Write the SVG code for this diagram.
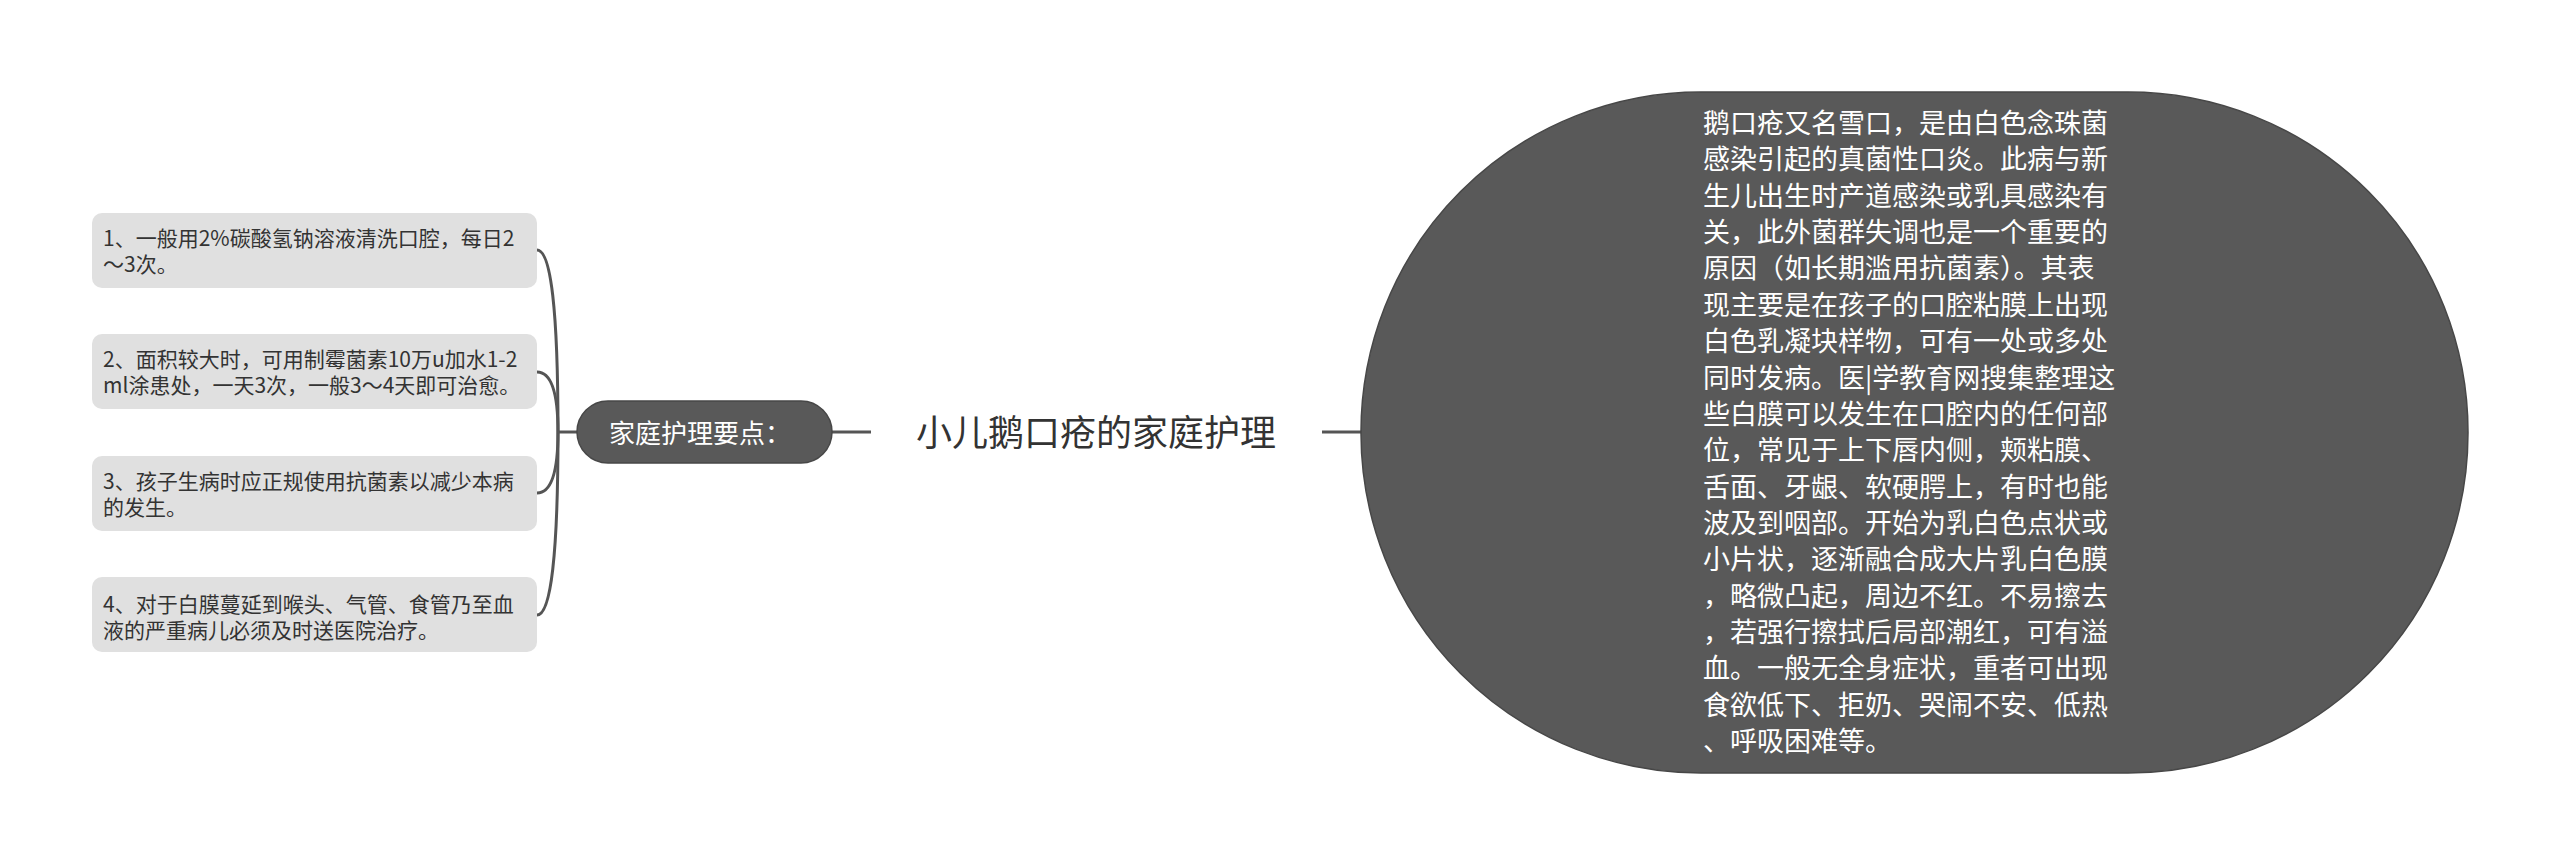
<svg xmlns="http://www.w3.org/2000/svg" width="2560" height="865" viewBox="0 0 2560 865">
<style>
.box{fill:#e0e0e0;}
.btxt{font-family:"Noto Sans CJK SC","Liberation Sans",sans-serif;font-size:21px;fill:#333333;}
.dark{fill:#595959;stroke:#474747;stroke-width:1.5;}
.wtxt{font-family:"Noto Sans CJK SC","Liberation Sans",sans-serif;fill:#ffffff;}
.title{font-family:"Noto Sans CJK SC","Liberation Sans",sans-serif;font-size:36px;fill:#333333;}
.conn{fill:none;stroke:#555555;stroke-width:3;}
</style>
<rect width="2560" height="865" fill="#ffffff"/>
<g id="connectors">
<path class="conn" d="M 558 432 Q 558 250 537 250"/>
<path class="conn" d="M 558 432 Q 558 372 537 372"/>
<path class="conn" d="M 558 432 Q 558 493 537 493"/>
<path class="conn" d="M 558 432 Q 558 615 537 615"/>
<path class="conn" d="M 557 432 L 577 432"/>
<path class="conn" d="M 832 432 L 871 432"/>
<path class="conn" d="M 1322 432 L 1362 432"/>
</g>
<g id="item1">
<rect class="box" x="92" y="213" width="445" height="75" rx="10"/>
<text class="btxt" x="103" y="246">1、一般用2%碳酸氢钠溶液清洗口腔，每日2</text>
<text class="btxt" x="103" y="272">～3次。</text>
</g>
<g id="item2">
<rect class="box" x="92" y="334" width="445" height="75" rx="10"/>
<text class="btxt" x="103" y="367">2、面积较大时，可用制霉菌素10万u加水1-2</text>
<text class="btxt" x="103" y="393">ml涂患处，一天3次，一般3～4天即可治愈。</text>
</g>
<g id="item3">
<rect class="box" x="92" y="456" width="445" height="75" rx="10"/>
<text class="btxt" x="103" y="489">3、孩子生病时应正规使用抗菌素以减少本病</text>
<text class="btxt" x="103" y="515">的发生。</text>
</g>
<g id="item4">
<rect class="box" x="92" y="577" width="445" height="75" rx="10"/>
<text class="btxt" x="103" y="612">4、对于白膜蔓延到喉头、气管、食管乃至血</text>
<text class="btxt" x="103" y="638">液的严重病儿必须及时送医院治疗。</text>
</g>
<g id="branch">
<rect class="dark" x="577" y="401" width="255" height="62" rx="31"/>
<text class="wtxt" x="609" y="443" font-size="26">家庭护理要点：</text>
</g>
<g id="root">
<text class="title" x="916" y="446">小儿鹅口疮的家庭护理</text>
</g>
<g id="description">
<rect class="dark" x="1361" y="92" width="1107" height="681" rx="340" ry="340"/>
<text class="wtxt" font-size="27">
<tspan x="1703" y="133">鹅口疮又名雪口，是由白色念珠菌</tspan>
<tspan x="1703" y="169.4">感染引起的真菌性口炎。此病与新</tspan>
<tspan x="1703" y="205.7">生儿出生时产道感染或乳具感染有</tspan>
<tspan x="1703" y="242.1">关，此外菌群失调也是一个重要的</tspan>
<tspan x="1703" y="278.4">原因（如长期滥用抗菌素）。其表</tspan>
<tspan x="1703" y="314.8">现主要是在孩子的口腔粘膜上出现</tspan>
<tspan x="1703" y="351.1">白色乳凝块样物，可有一处或多处</tspan>
<tspan x="1703" y="387.5">同时发病。医|学教育网搜集整理这</tspan>
<tspan x="1703" y="423.8">些白膜可以发生在口腔内的任何部</tspan>
<tspan x="1703" y="460.2">位，常见于上下唇内侧，颊粘膜、</tspan>
<tspan x="1703" y="496.5">舌面、牙龈、软硬腭上，有时也能</tspan>
<tspan x="1703" y="532.9">波及到咽部。开始为乳白色点状或</tspan>
<tspan x="1703" y="569.2">小片状，逐渐融合成大片乳白色膜</tspan>
<tspan x="1703" y="605.6">，略微凸起，周边不红。不易擦去</tspan>
<tspan x="1703" y="641.9">，若强行擦拭后局部潮红，可有溢</tspan>
<tspan x="1703" y="678.3">血。一般无全身症状，重者可出现</tspan>
<tspan x="1703" y="714.6">食欲低下、拒奶、哭闹不安、低热</tspan>
<tspan x="1703" y="751">、呼吸困难等。</tspan>
</text>
</g>
</svg>
